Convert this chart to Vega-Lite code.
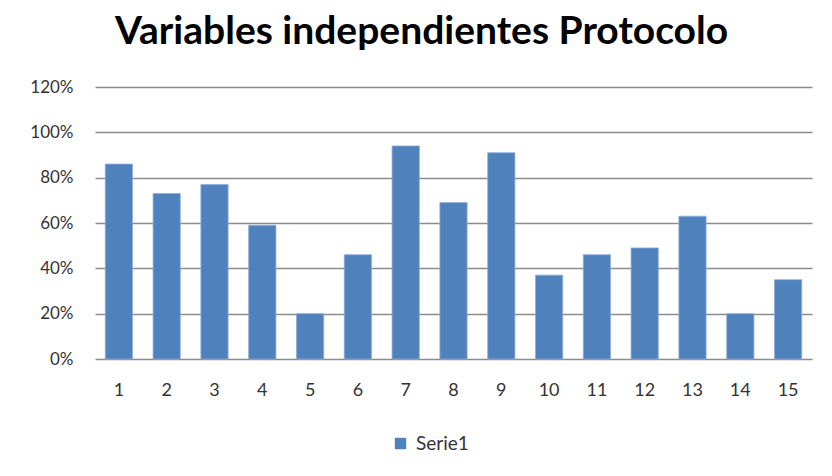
{
  "$schema": "https://vega.github.io/schema/vega-lite/v6.json",
  "width": 717,
  "height": 272,
  "autosize": "none",
  "padding": {"left": 95, "top": 87, "right": 20, "bottom": 117},
  "background": "white",
  "config": {
    "view": {"stroke": null},
    "font": "Lato"
  },
  "title": {
    "text": "Variables independientes Protocolo",
    "font": "Lato",
    "fontSize": 39,
    "fontWeight": "bold",
    "color": "#000000",
    "anchor": "middle",
    "dx": -32,
    "offset": 26
  },
  "data": {
    "values": [
      {"cat": "1", "value": 0.86, "serie": "Serie1"},
      {"cat": "2", "value": 0.73, "serie": "Serie1"},
      {"cat": "3", "value": 0.77, "serie": "Serie1"},
      {"cat": "4", "value": 0.59, "serie": "Serie1"},
      {"cat": "5", "value": 0.20, "serie": "Serie1"},
      {"cat": "6", "value": 0.46, "serie": "Serie1"},
      {"cat": "7", "value": 0.94, "serie": "Serie1"},
      {"cat": "8", "value": 0.69, "serie": "Serie1"},
      {"cat": "9", "value": 0.91, "serie": "Serie1"},
      {"cat": "10", "value": 0.37, "serie": "Serie1"},
      {"cat": "11", "value": 0.46, "serie": "Serie1"},
      {"cat": "12", "value": 0.49, "serie": "Serie1"},
      {"cat": "13", "value": 0.63, "serie": "Serie1"},
      {"cat": "14", "value": 0.20, "serie": "Serie1"},
      {"cat": "15", "value": 0.35, "serie": "Serie1"}
    ]
  },
  "mark": {"type": "bar", "stroke": "#8eaedb", "strokeWidth": 0.8},
  "encoding": {
    "x": {
      "field": "cat",
      "type": "ordinal",
      "sort": null,
      "scale": {"paddingInner": 0.43, "paddingOuter": 0.215},
      "axis": {
        "title": null,
        "labelAngle": 0,
        "ticks": false,
        "domain": false,
        "labelFontSize": 18,
        "labelColor": "#333333",
        "labelPadding": 22
      }
    },
    "y": {
      "field": "value",
      "type": "quantitative",
      "scale": {"domain": [0, 1.2]},
      "axis": {
        "title": null,
        "format": ".0%",
        "values": [0, 0.2, 0.4, 0.6, 0.8, 1.0, 1.2],
        "ticks": false,
        "domain": false,
        "gridColor": "#8c8c8c",
        "gridWidth": 1.5,
        "labelFontSize": 17,
        "labelColor": "#333333",
        "labelPadding": 22
      }
    },
    "color": {
      "field": "serie",
      "type": "nominal",
      "scale": {"range": ["#4f81bd"]},
      "legend": {
        "title": null,
        "orient": "none",
        "legendX": 296,
        "legendY": 347,
        "symbolType": "square",
        "symbolSize": 130,
        "symbolStrokeWidth": 0,
        "labelFontSize": 19,
        "labelColor": "#333333",
        "labelOffset": 6
      }
    }
  }
}
